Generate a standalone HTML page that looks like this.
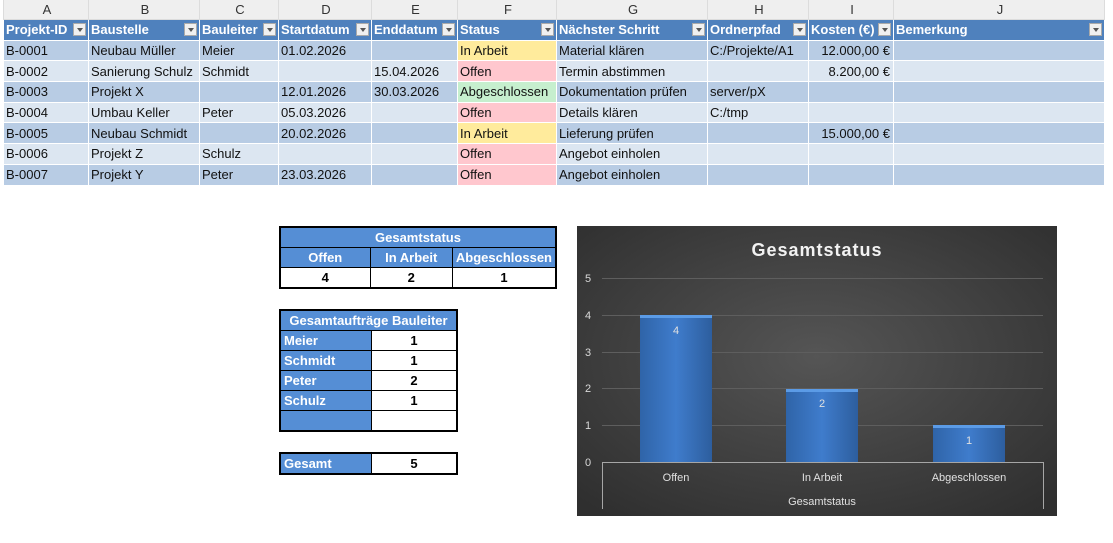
<!DOCTYPE html>
<html><head><meta charset="utf-8"><style>
body{margin:0;width:1113px;height:543px;background:#fff;position:relative;overflow:hidden;font-family:"Liberation Sans",sans-serif;}
.sheet{position:absolute;left:3px;top:0;border-collapse:collapse;table-layout:fixed;font-size:13px;}
.sheet td{padding:0 0 0 2px;white-space:nowrap;overflow:hidden;border:1px solid #fff;height:19.7px;line-height:19px;}
.sheet tr.cl td{background:#efefef;color:#333;text-align:center;border:1px solid #dcdcdc;border-top:none;height:19px;}
.sheet tr.hd td{background:#4f81bd;color:#fff;font-weight:bold;position:relative;}
.dd{position:absolute;right:2px;top:3px;width:13px;height:13px;background:#f0f0f0;border:1px solid #aaa;box-sizing:border-box;}
.dd:after{content:"";position:absolute;left:3px;top:4px;border-left:3px solid transparent;border-right:3px solid transparent;border-top:4px solid #555;}
.d td{background:#b8cce4;color:#111;}
.l td{background:#dce6f1;color:#111;}
.y{background:#ffeb9c!important;}
.p{background:#ffc7ce!important;}
.g{background:#c6efce!important;}
.r{text-align:right;padding-right:3px!important;}
.bx{position:absolute;border-collapse:collapse;font-size:13px;font-weight:bold;}
.bx td{border:1px solid #000;height:19px;padding:0 3px;line-height:19px;}
.bx .b{background:#558ed5;color:#fff;}
.bx .c{text-align:center;}
</style></head><body>
<table class="sheet">
<colgroup><col style="width:85px"><col style="width:111px"><col style="width:79px"><col style="width:93px"><col style="width:86px"><col style="width:99px"><col style="width:151px"><col style="width:101px"><col style="width:85px"><col style="width:211px"></colgroup>
<tr class="cl"><td>A</td><td>B</td><td>C</td><td>D</td><td>E</td><td>F</td><td>G</td><td>H</td><td>I</td><td>J</td></tr>
<tr class="hd"><td>Projekt-ID<span class="dd"></span></td><td>Baustelle<span class="dd"></span></td><td>Bauleiter<span class="dd"></span></td><td>Startdatum<span class="dd"></span></td><td>Enddatum<span class="dd"></span></td><td>Status<span class="dd"></span></td><td>Nächster Schritt<span class="dd"></span></td><td>Ordnerpfad<span class="dd"></span></td><td>Kosten (€)<span class="dd"></span></td><td>Bemerkung<span class="dd"></span></td></tr>
<tr class="d"><td>B-0001</td><td>Neubau Müller</td><td>Meier</td><td>01.02.2026</td><td></td><td class="y">In Arbeit</td><td>Material klären</td><td>C:/Projekte/A1</td><td class="r">12.000,00 €</td><td></td></tr>
<tr class="l"><td>B-0002</td><td>Sanierung Schulz</td><td>Schmidt</td><td></td><td>15.04.2026</td><td class="p">Offen</td><td>Termin abstimmen</td><td></td><td class="r">8.200,00 €</td><td></td></tr>
<tr class="d"><td>B-0003</td><td>Projekt X</td><td></td><td>12.01.2026</td><td>30.03.2026</td><td class="g">Abgeschlossen</td><td>Dokumentation prüfen</td><td>server/pX</td><td></td><td></td></tr>
<tr class="l"><td>B-0004</td><td>Umbau Keller</td><td>Peter</td><td>05.03.2026</td><td></td><td class="p">Offen</td><td>Details klären</td><td>C:/tmp</td><td></td><td></td></tr>
<tr class="d"><td>B-0005</td><td>Neubau Schmidt</td><td></td><td>20.02.2026</td><td></td><td class="y">In Arbeit</td><td>Lieferung prüfen</td><td></td><td class="r">15.000,00 €</td><td></td></tr>
<tr class="l"><td>B-0006</td><td>Projekt Z</td><td>Schulz</td><td></td><td></td><td class="p">Offen</td><td>Angebot einholen</td><td></td><td></td><td></td></tr>
<tr class="d"><td>B-0007</td><td>Projekt Y</td><td>Peter</td><td>23.03.2026</td><td></td><td class="p">Offen</td><td>Angebot einholen</td><td></td><td></td><td></td></tr>
</table>

<table class="bx" style="left:279px;top:226px;width:278px;border:2px solid #000;">
<tr><td class="b c" colspan="3">Gesamtstatus</td></tr>
<tr><td class="b c" style="width:86px">Offen</td><td class="b c" style="width:78px">In Arbeit</td><td class="b c">Abgeschlossen</td></tr>
<tr><td class="c">4</td><td class="c">2</td><td class="c">1</td></tr>
</table>

<table class="bx" style="left:279px;top:309px;width:179px;border:2px solid #000;">
<tr><td class="b c" colspan="2">Gesamtaufträge Bauleiter</td></tr>
<tr><td class="b" style="width:84px">Meier</td><td class="c">1</td></tr>
<tr><td class="b">Schmidt</td><td class="c">1</td></tr>
<tr><td class="b">Peter</td><td class="c">2</td></tr>
<tr><td class="b">Schulz</td><td class="c">1</td></tr>
<tr><td class="b"></td><td></td></tr>
</table>

<table class="bx" style="left:279px;top:452px;width:179px;border:2px solid #000;">
<tr><td class="b" style="width:84px">Gesamt</td><td class="c">5</td></tr>
</table>

<svg style="position:absolute;left:577px;top:226px" width="480" height="290" viewBox="577 226 480 290">
<defs>
<radialGradient id="bg" cx="50%" cy="45%" r="70%"><stop offset="0" stop-color="#555"/><stop offset="1" stop-color="#2f2f2f"/></radialGradient>
<linearGradient id="bar" x1="0" x2="1"><stop offset="0" stop-color="#2f64a8"/><stop offset="0.5" stop-color="#3f7ccc"/><stop offset="1" stop-color="#2d5e9e"/></linearGradient>
</defs>
<rect x="577" y="226" width="480" height="290" fill="url(#bg)"/>
<text x="817" y="256" fill="#f2f2f2" font-size="18" font-weight="bold" text-anchor="middle" letter-spacing="1">Gesamtstatus</text>
<g stroke="#5e5e5e" stroke-width="1">
<line x1="602" x2="1043" y1="278.5" y2="278.5"/><line x1="602" x2="1043" y1="315.5" y2="315.5"/><line x1="602" x2="1043" y1="352.5" y2="352.5"/><line x1="602" x2="1043" y1="388.5" y2="388.5"/><line x1="602" x2="1043" y1="425.5" y2="425.5"/>
</g>
<g fill="#d9d9d9" font-size="11" text-anchor="middle">
<text x="588" y="282">5</text><text x="588" y="319">4</text><text x="588" y="356">3</text><text x="588" y="392">2</text><text x="588" y="429">1</text><text x="588" y="466">0</text>
</g>
<rect x="640" y="315" width="72" height="147" fill="url(#bar)"/><rect x="640" y="315" width="72" height="3" fill="#5b9be6"/>
<rect x="786" y="389" width="72" height="73" fill="url(#bar)"/><rect x="786" y="389" width="72" height="3" fill="#5b9be6"/>
<rect x="933" y="425" width="72" height="37" fill="url(#bar)"/><rect x="933" y="425" width="72" height="3" fill="#5b9be6"/>
<g fill="#e0e0e0" font-size="11" text-anchor="middle">
<text x="676" y="334">4</text><text x="822" y="407">2</text><text x="969" y="444">1</text>
<text x="676" y="481">Offen</text><text x="822" y="481">In Arbeit</text><text x="969" y="481">Abgeschlossen</text>
<text x="822" y="505">Gesamtstatus</text>
</g>
<g stroke="#a6a6a6" stroke-width="1" fill="none">
<polyline points="602.5,509 602.5,462.5 1043.5,462.5 1043.5,509"/>
</g>
</svg>
</body></html>
